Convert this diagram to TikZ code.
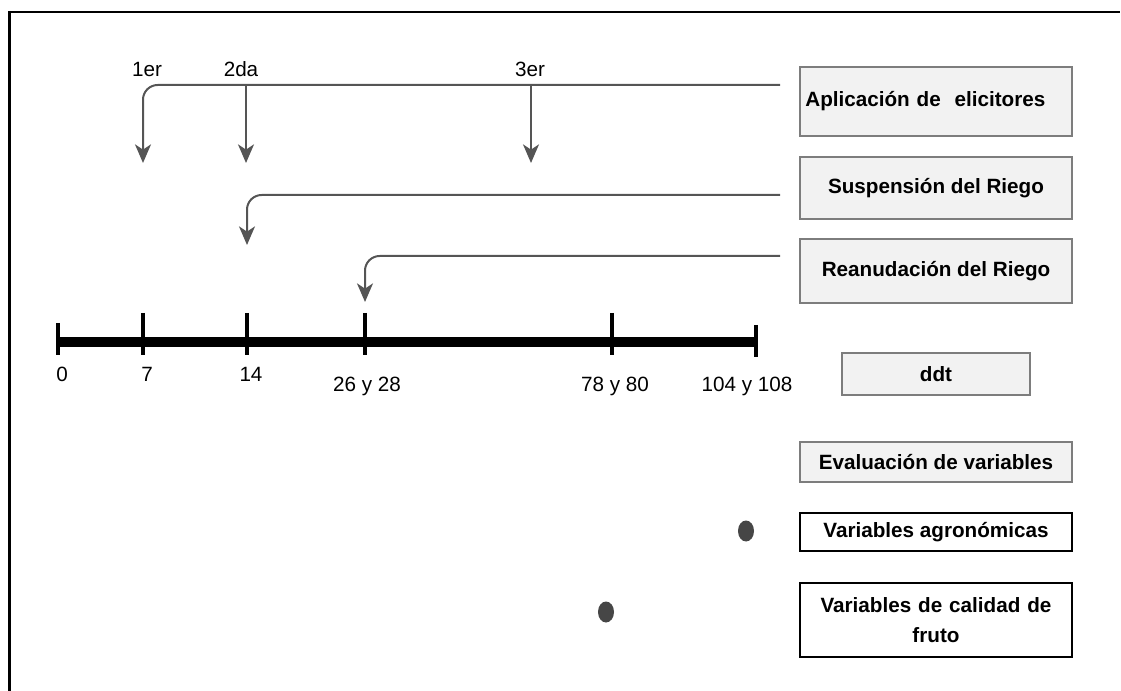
\documentclass[tikz,border=0pt]{standalone}
\usepackage{fontspec}
\setmainfont{Liberation Sans}
\usetikzlibrary{arrows.meta}
\definecolor{linegray}{RGB}{85,85,85}
\definecolor{boxfill}{RGB}{242,242,242}
\definecolor{boxedge}{RGB}{125,125,125}
\definecolor{dotgray}{RGB}{70,70,70}
\tikzset{
	flow/.style={draw=linegray, line width=1.5pt, -{Stealth[length=14pt, width=12pt, inset=4pt]}},
	stagebox/.style={draw=boxedge, line width=1.6pt, fill=boxfill, minimum width=204pt, font=\bfseries\fontsize{15.5}{22}\selectfont},
	varbox/.style={draw=black, line width=1.6pt, fill=white, minimum width=204pt, font=\bfseries\fontsize{15.5}{22}\selectfont},
	daylbl/.style={anchor=base, font=\fontsize{15.5}{18}\selectfont},
	tick/.style={line width=2.5pt}}
\tikzset{every picture/.style={line width=0.75pt}}
\begin{document}
\begin{tikzpicture}[x=0.75pt,y=0.75pt,yscale=-1,xscale=1]
	\useasboundingbox (0,0) rectangle (1121,691);

	%Frame
	\draw [line width=2pt] (8,12) -- (1120,12) ;
	\draw [line width=2pt] (9.5,11) -- (9.5,691) ;

	%Boxes
	\node [stagebox, minimum height=51.75pt, text width=196pt, align=left] (app) at (936,101.5) {Aplicación de \ elicitores};
	\node [stagebox, minimum height=46.5pt] (sus) at (936,188) {Suspensión del Riego};
	\node [stagebox, minimum height=48pt] (rea) at (936,271) {Reanudación del Riego};
	\node [stagebox, minimum width=141pt, minimum height=31pt] (ddt) at (936,374) {ddt};
	\node [stagebox, minimum height=30pt] (eva) at (936,462) {Evaluación de variables};
	\node [varbox, minimum height=28.5pt] (agr) at (936,532) {Variables agronómicas};
	\node [varbox, minimum height=55.5pt, text width=196pt, align=center] (cal) at (936,620) {Variables de calidad de\\fruto};

	%Timeline
	\coordinate (t0) at (58,342);
	\coordinate (t7) at (143,342);
	\coordinate (t14) at (247,342);
	\coordinate (t26) at (365,342);
	\coordinate (t78) at (612,342);
	\coordinate (t104) at (756,342);
	\draw [line width=7.5pt] (t0) -- (t104) ;
	\draw [tick] (58,323) -- (58,355) ;
	\foreach \tx in {143,247,365,612} {
		\draw [tick] (\tx,313) -- (\tx,355) ;
	}
	\draw [tick] (756,325) -- (756,357) ;

	% Text Node
	\node [daylbl] (d0) at (62,382) {0};
	\node [daylbl] (d7) at (147,382) {7};
	\node [daylbl] (d14) at (251,382) {14};
	\node [daylbl] (d26) at (367,392) {26 y 28};
	\node [daylbl] (d78) at (615,392) {78 y 80};
	\node [daylbl] (d104) at (747,392) {104 y 108};

	% Text Node
	\node [daylbl] (n1) at (147,77) {1er};
	\node [daylbl] (n2) at (241,77) {2da};
	\node [daylbl] (n3) at (530,77) {3er};

	%Arrows
	\coordinate (a1) at (780,85);
	\coordinate (a2) at (780,195);
	\coordinate (a3) at (780,256);
	\coordinate (b2) at (246,85);
	\coordinate (b3) at (531,85);
	\coordinate (p1) at (143,163);
	\coordinate (p2) at (246,163);
	\coordinate (p3) at (531,163);
	\coordinate (p4) at (247,245);
	\coordinate (p5) at (365,302);
	\draw [flow, rounded corners=11pt] (a1) -| (p1) ;
	\draw [flow] (b2) -- (p2) ;
	\draw [flow] (b3) -- (p3) ;
	\draw [flow, rounded corners=11pt] (a2) -| (p4) ;
	\draw [flow, rounded corners=11pt] (a3) -| (p5) ;

	%Shape: Dots
	\fill [dotgray] (746,531) ellipse [x radius=8, y radius=10.5] ;
	\fill [dotgray] (606,612) ellipse [x radius=8, y radius=10.5] ;
\end{tikzpicture}
\end{document}
